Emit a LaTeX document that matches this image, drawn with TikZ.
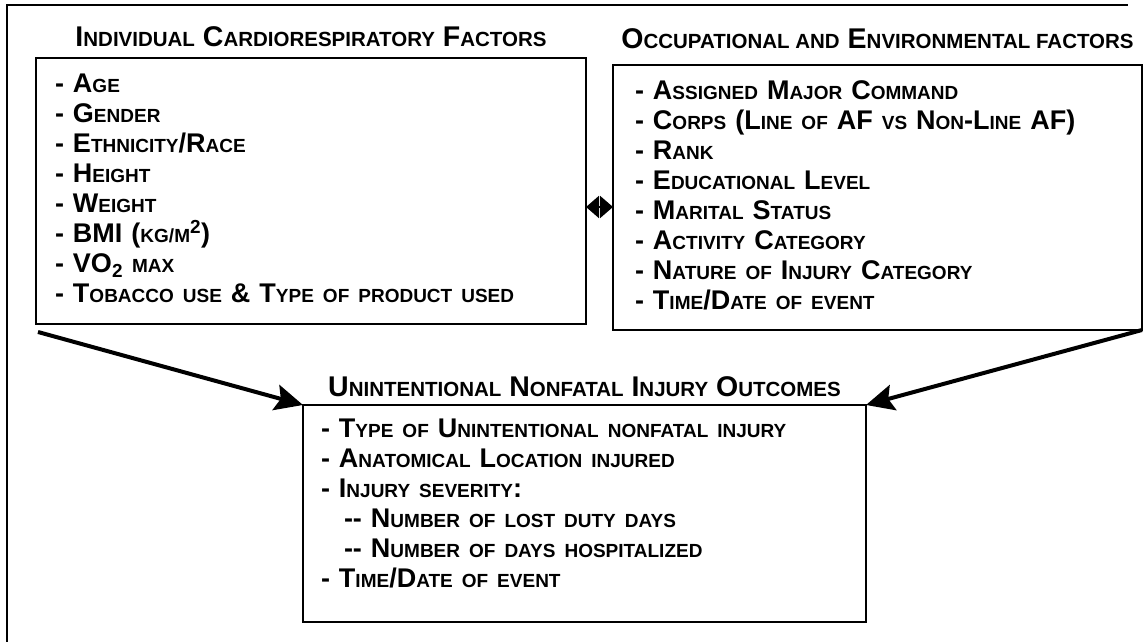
\documentclass[tikz,border=0pt]{standalone}
\usepackage{fontspec}
\setmainfont{Liberation Sans}
\usepackage{tikz}
\usetikzlibrary{arrows.meta, positioning, calc}

\newcommand{\sm}[1]{{\fontsize{19pt}{30pt}\selectfont #1}}
\newcommand{\smt}[1]{{\fontsize{20.5pt}{30pt}\selectfont #1}}

\begin{document}
\begin{tikzpicture}[x=1pt, y=1pt, outer sep=0pt, font=\bfseries\fontsize{27pt}{30pt}\selectfont]

\tikzstyle{box}=[rectangle, draw, line width=2.2pt, anchor=north west, align=left, inner xsep=19pt, inner ysep=0pt]
\tikzstyle{title}=[inner sep=0pt, anchor=base, font=\bfseries\fontsize{28.5pt}{30pt}\selectfont]
\tikzstyle{bigarrow}=[line width=4pt, -{Stealth[length=28pt, width=26pt, inset=5pt]}]
\tikzstyle{linkhead}=[line width=2pt, {Stealth[length=13pt, width=22pt, inset=0pt]}-{Stealth[length=13pt, width=22pt, inset=0pt]}]

\useasboundingbox (0,0) rectangle (1145,642);
% frame (scan cut off right and bottom)
\draw[line width=2pt] (7,0) -- (7,637) -- (1128,637);

\node[box, text width=512pt, text height=35pt, text depth=231pt] (indiv) at (36,584) {%
- A\sm{GE}\\
- G\sm{ENDER}\\
- E\sm{THNICITY}/R\sm{ACE}\\
- H\sm{EIGHT}\\
- W\sm{EIGHT}\\
- BMI (\sm{KG/M}\textsuperscript{2})\\
- VO\textsubscript{2} \sm{MAX}\\
- T\sm{OBACCO USE} \& T\sm{YPE OF PRODUCT USED}};

\node[box, text width=485pt, inner xsep=22pt, text height=35pt, text depth=230pt] (occup) at (613,577) {%
- A\sm{SSIGNED} M\sm{AJOR} C\sm{OMMAND}\\
- C\sm{ORPS} (L\sm{INE OF} AF \sm{VS} N\sm{ON}-L\sm{INE} AF)\\
- R\sm{ANK}\\
- E\sm{DUCATIONAL} L\sm{EVEL}\\
- M\sm{ARITAL} S\sm{TATUS}\\
- A\sm{CTIVITY} C\sm{ATEGORY}\\
- N\sm{ATURE OF} I\sm{NJURY} C\sm{ATEGORY}\\
- T\sm{IME}/D\sm{ATE OF EVENT}};

\node[box, text width=527pt, inner xsep=18pt, text height=33pt, text depth=184pt] (injury) at (303,237) {%
- T\sm{YPE OF} U\sm{NINTENTIONAL NONFATAL INJURY}\\
- A\sm{NATOMICAL} L\sm{OCATION INJURED}\\
- I\sm{NJURY SEVERITY}:\\
\hspace*{23pt}-{}- N\sm{UMBER OF LOST DUTY DAYS}\\
\hspace*{23pt}-{}- N\sm{UMBER OF DAYS HOSPITALIZED}\\
- T\sm{IME}/D\sm{ATE OF EVENT}};

\node[title, above=11pt of indiv.north, anchor=base] (indivtitle) {I\smt{NDIVIDUAL} C\smt{ARDIORESPIRATORY} F\smt{ACTORS}};
\node[title, above=16pt of occup.north, anchor=base] (occuptitle) {O\smt{CCUPATIONAL AND} E\smt{NVIRONMENTAL FACTORS}};
\node[title, above=8pt of injury.north, anchor=base] (injurytitle) {U\smt{NINTENTIONAL} N\smt{ONFATAL} I\smt{NJURY} O\smt{UTCOMES}};

\draw[bigarrow] ([shift={(2pt,-8pt)}]indiv.south west) -- (injury.north west);
\draw[bigarrow] (occup.south east) -- (injury.north east);

\coordinate (link) at ([yshift=-16pt]indiv.east);
\draw[linkhead] (link) -- (link -| occup.west);
\end{tikzpicture}
\end{document}
